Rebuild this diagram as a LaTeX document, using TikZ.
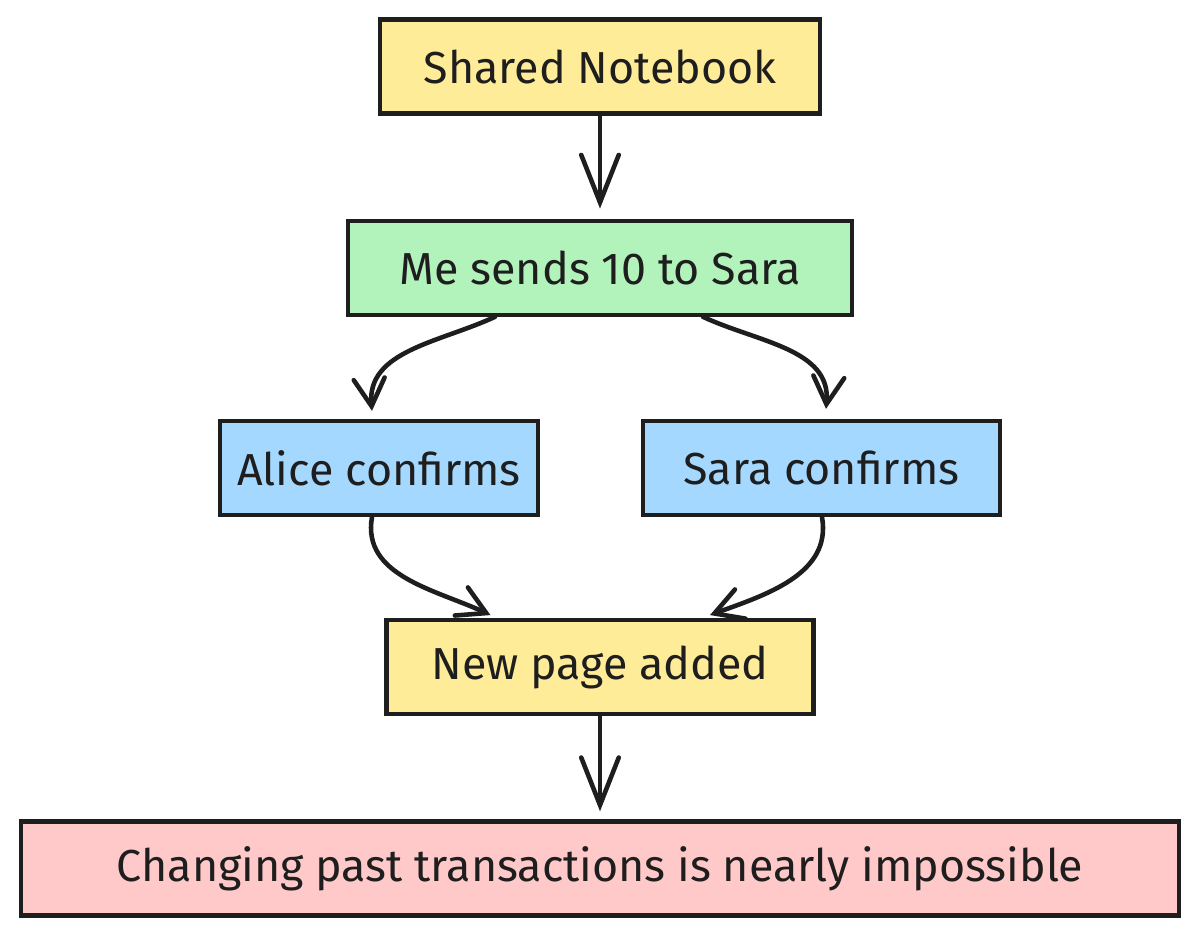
\documentclass[tikz,border=0pt]{standalone}
\usepackage{fontspec}
\setmainfont{Fira Sans}
\usepackage{tikz}
\usetikzlibrary{arrows.meta, positioning, calc}

\definecolor{noteyellow}{HTML}{FFEC99}
\definecolor{notegreen}{HTML}{B2F2BB}
\definecolor{noteblue}{HTML}{A5D8FF}
\definecolor{notepink}{HTML}{FFC9C9}
\definecolor{inkdark}{HTML}{1E1E1E}

\begin{document}
\begin{tikzpicture}[
  box/.style={draw=inkdark, line width=2.4pt, minimum height=1.88cm,
              fill=noteyellow, font=\fontsize{25.5}{30}\selectfont, text=inkdark},
  arr/.style={-{Straight Barb[length=0.95cm, width=0.75cm, line cap=round]},
              line width=2.6pt, draw=inkdark, line cap=round},
  bendarr/.style={arr, -{Straight Barb[length=0.55cm, width=0.62cm, line cap=round]}},
  every node/.style={inner sep=0pt}
]
  \useasboundingbox[fill=white] (-12,1.33) rectangle (12,-17.39);

  \node[box, minimum width=8.8cm] (shared) at (0,0) {Shared Notebook};
  \node[box, fill=notegreen, minimum width=10.08cm, below=2.06cm of shared] (send) {Me sends 10 to Sara};
  \node[box, fill=noteblue, minimum width=6.36cm, below=2.04cm of send, xshift=-4.42cm] (alice) {Alice confirms};
  \node[box, fill=noteblue, minimum width=7.14cm, below=2.04cm of send, xshift=4.43cm] (sara) {Sara confirms};
  \coordinate (mid) at (send.south |- alice.south);
  \node[box, minimum width=8.54cm, below=2.02cm of mid] (page) {New page added};
  \node[box, fill=notepink, minimum width=23.16cm, below=2.06cm of page] (past) {Changing past transactions is nearly impossible};

  \draw[arr, shorten >=0.2cm] (shared) -- (send);
  \draw[bendarr] ([xshift=-2.1cm]send.south) to[out=-155, in=95] ([xshift=-0.14cm, yshift=0.16cm]alice.north);
  \draw[bendarr] ([xshift=2.06cm]send.south) to[out=-25, in=85] ([xshift=0.09cm, yshift=0.2cm]sara.north);
  \draw[bendarr] ([xshift=-0.14cm]alice.south) to[out=-100, in=155] ([xshift=-2.19cm, yshift=0.06cm]page.north);
  \draw[bendarr] ([xshift=0.01cm]sara.south) to[out=-80, in=20] ([xshift=2.2cm, yshift=0.06cm]page.north);
  \draw[arr, shorten >=0.16cm] (page) -- (past);
\end{tikzpicture}
\end{document}
